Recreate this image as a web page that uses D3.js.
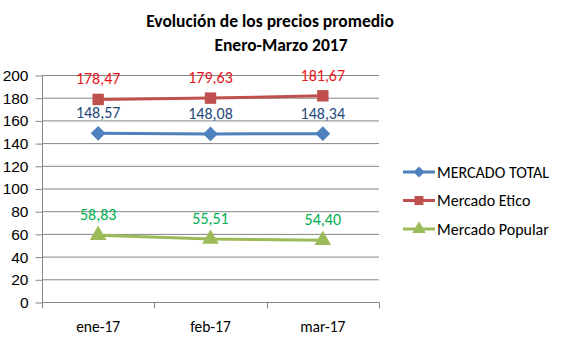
<!DOCTYPE html>
<html>
<head>
<meta charset="utf-8">
<script src="https://cdn.jsdelivr.net/npm/d3@7"></script>
<style>
  html, body { margin: 0; padding: 0; background: #fff; }
  svg { display: block; font-family: Carlito, Lato, "Open Sans", sans-serif; }
</style>
</head>
<body>
<svg id="chart" width="565" height="339"></svg>
<script>
// Monthly average prices, January–March 2017
const months = ["ene-17", "feb-17", "mar-17"];
const mercadoTotal = [148.57, 148.08, 148.34];
const mercadoEtico = [178.47, 179.63, 181.67];
const mercadoPopular = [58.83, 55.51, 54.40];
const yTicks = [0, 20, 40, 60, 80, 100, 120, 140, 160, 180, 200];

const series = [
  { name: "MERCADO TOTAL", values: mercadoTotal, color: "#4F81BD", label: "#1F497D", shape: d3.symbolDiamond2 },
  { name: "Mercado Etico", values: mercadoEtico, color: "#C0504D", label: "#E8161B", shape: d3.symbolSquare },
  { name: "Mercado Popular", values: mercadoPopular, color: "#9BBB59", label: "#00B050", shape: d3.symbolTriangle }
];

const svg = d3.select("#chart");
const plotL = 42, plotR = 379, plotT = 75, plotB = 302;

const x = d3.scaleBand().domain(months).range([plotL, plotR]);
const y = d3.scaleLinear().domain([0, 200]).range([plotB, plotT]);

// Title
const title = svg.append("g").attr("font-weight", "bold").attr("font-size", 17.5).attr("fill", "#000").attr("text-anchor", "middle");
title.append("text").attr("x", 270).attr("y", 27).text("Evolución de los precios promedio");
title.append("text").attr("x", 281).attr("y", 51).text("Enero-Marzo 2017");

// Horizontal gridlines
svg.append("g").selectAll("line").data(yTicks.filter(d => d > 0)).join("line")
  .attr("x1", plotL).attr("x2", plotR)
  .attr("y1", d => y(d) + 0.5).attr("y2", d => y(d) + 0.5)
  .attr("stroke", "#868686").attr("stroke-width", 1);

// Y axis
const yAxis = svg.append("g").attr("transform", `translate(${plotL + 0.5},0.5)`)
  .call(d3.axisLeft(y).tickValues(yTicks).tickSize(7).tickPadding(7).tickFormat(d3.format("d")));
yAxis.select(".domain").attr("stroke", "#868686").attr("d", `M0,${plotT}V${plotB}`);
yAxis.selectAll(".tick line").attr("stroke", "#868686");
yAxis.selectAll("text").attr("font-size", 15.5).attr("fill", "#000").attr("font-family", null);

// X axis: ticks at band boundaries
const xAxisG = svg.append("g").attr("transform", `translate(0,${plotB + 0.5})`);
xAxisG.append("line").attr("x1", plotL).attr("x2", plotR + 0.5).attr("stroke", "#868686");
const bounds = months.map(m => x(m)).concat([plotR]);
xAxisG.selectAll(".bt").data(bounds).join("line")
  .attr("x1", d => Math.round(d) + 0.5).attr("x2", d => Math.round(d) + 0.5)
  .attr("y1", 0).attr("y2", 6).attr("stroke", "#868686");
xAxisG.selectAll("text").data(months).join("text")
  .attr("x", d => x(d) + x.bandwidth() / 2).attr("y", 29)
  .attr("text-anchor", "middle").attr("font-size", 15.5).attr("fill", "#000").text(d => d);

const cx = m => x(m) + x.bandwidth() / 2;
const line = d3.line().x((d, i) => cx(months[i])).y(d => y(d));

// Series lines, markers and value labels
series.forEach(s => {
  svg.append("path").datum(s.values).attr("d", line)
    .attr("fill", "none").attr("stroke", s.color).attr("stroke-width", 3);
  svg.append("g").selectAll("path").data(s.values).join("path")
    .attr("transform", (d, i) => `translate(${cx(months[i])},${y(d)})`)
    .attr("d", d3.symbol().type(s.shape).size(s.shape === d3.symbolSquare ? 130 : s.shape === d3.symbolTriangle ? 120 : 140))
    .attr("fill", s.color);
  svg.append("g").selectAll("text").data(s.values).join("text")
    .attr("x", (d, i) => cx(months[i])).attr("y", d => y(d) - 15)
    .attr("text-anchor", "middle").attr("font-size", 16).attr("fill", s.label)
    .text(d => d3.format(".2f")(d).replace(".", ","));
});

// Legend
const legend = svg.append("g");
series.forEach((s, i) => {
  const ly = 172 + i * 28.5;
  legend.append("line").attr("x1", 403).attr("x2", 435).attr("y1", ly).attr("y2", ly)
    .attr("stroke", s.color).attr("stroke-width", 3);
  legend.append("path").attr("transform", `translate(419,${ly})`)
    .attr("d", d3.symbol().type(s.shape).size(s.shape === d3.symbolSquare ? 80 : 80)).attr("fill", s.color);
  legend.append("text").attr("x", 437).attr("y", ly + 5.5)
    .attr("font-size", 16).attr("fill", "#000").text(s.name);
});
</script>
</body>
</html>
